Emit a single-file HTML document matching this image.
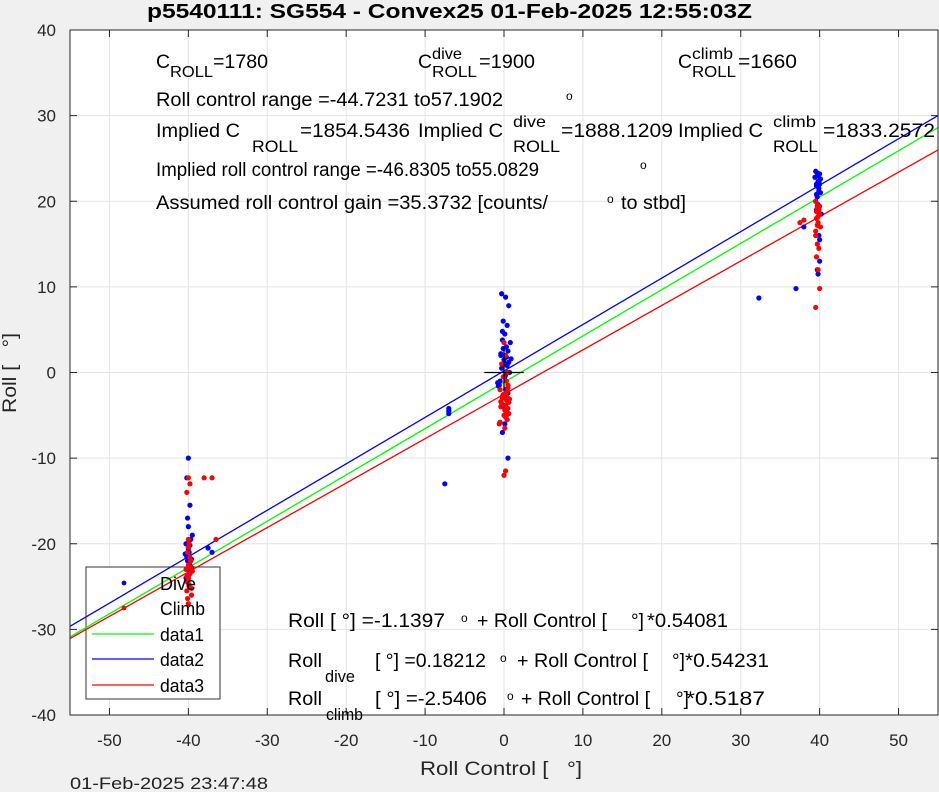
<!DOCTYPE html>
<html><head><meta charset="utf-8">
<style>
html,body{margin:0;padding:0;background:#f0f0f0;}
svg{display:block;font-family:"Liberation Sans",sans-serif;}
text{white-space:pre;}
</style></head>
<body>
<svg id="chart" width="939" height="792" viewBox="0 0 939 792" xmlns="http://www.w3.org/2000/svg">
<rect x="0" y="0" width="939" height="792" fill="#f0f0f0"/>
<rect x="70" y="30" width="868" height="685" fill="#ffffff"/>
<g id="grid"></g>
<rect x="86" y="567" width="134" height="132" fill="#ffffff" stroke="#333" stroke-width="1"/>
<g id="marks"></g>
<g id="axes"></g>
<text x="147" y="18" font-size="20" font-weight="bold" fill="#000" textLength="605" lengthAdjust="spacingAndGlyphs">p5540111: SG554 - Convex25 01-Feb-2025 12:55:03Z</text>
<g font-size="19" fill="#000">
<text x="156" y="68" textLength="14" lengthAdjust="spacingAndGlyphs">C</text>
<text x="170" y="77" font-size="16" textLength="43" lengthAdjust="spacingAndGlyphs">ROLL</text>
<text x="213" y="68" textLength="55" lengthAdjust="spacingAndGlyphs">=1780</text>
<text x="418" y="68" textLength="14" lengthAdjust="spacingAndGlyphs">C</text>
<text x="432" y="59" font-size="16" textLength="30" lengthAdjust="spacingAndGlyphs">dive</text>
<text x="432" y="77" font-size="16" textLength="45" lengthAdjust="spacingAndGlyphs">ROLL</text>
<text x="479" y="68" textLength="56" lengthAdjust="spacingAndGlyphs">=1900</text>
<text x="678" y="68" textLength="14" lengthAdjust="spacingAndGlyphs">C</text>
<text x="692" y="59" font-size="16" textLength="41" lengthAdjust="spacingAndGlyphs">climb</text>
<text x="692" y="77" font-size="16" textLength="44" lengthAdjust="spacingAndGlyphs">ROLL</text>
<text x="738" y="68" textLength="59" lengthAdjust="spacingAndGlyphs">=1660</text>
<text x="156" y="106" textLength="347" lengthAdjust="spacingAndGlyphs">Roll control range =-44.7231 to57.1902</text>
<text x="566" y="100" font-size="12">o</text>
<text x="156" y="137" textLength="84" lengthAdjust="spacingAndGlyphs">Implied C</text>
<text x="252" y="152" font-size="17" textLength="46" lengthAdjust="spacingAndGlyphs">ROLL</text>
<text x="300" y="137" textLength="110" lengthAdjust="spacingAndGlyphs">=1854.5436</text>
<text x="418" y="137" textLength="85" lengthAdjust="spacingAndGlyphs">Implied C</text>
<text x="513" y="127" font-size="16" textLength="33" lengthAdjust="spacingAndGlyphs">dive</text>
<text x="513" y="152" font-size="17" textLength="47" lengthAdjust="spacingAndGlyphs">ROLL</text>
<text x="561" y="137" textLength="112" lengthAdjust="spacingAndGlyphs">=1888.1209</text>
<text x="678" y="137" textLength="85" lengthAdjust="spacingAndGlyphs">Implied C</text>
<text x="773" y="127" font-size="16" textLength="43" lengthAdjust="spacingAndGlyphs">climb</text>
<text x="773" y="152" font-size="17" textLength="45" lengthAdjust="spacingAndGlyphs">ROLL</text>
<text x="823" y="137" textLength="112" lengthAdjust="spacingAndGlyphs">=1833.2572</text>
<text x="156" y="176" textLength="383" lengthAdjust="spacingAndGlyphs">Implied roll control range =-46.8305 to55.0829</text>
<text x="640" y="169" font-size="12">o</text>
<text x="156" y="209" textLength="392" lengthAdjust="spacingAndGlyphs">Assumed roll control gain =35.3732 [counts/</text>
<text x="607" y="203" font-size="12">o</text>
<text x="621" y="209" textLength="65" lengthAdjust="spacingAndGlyphs">to stbd]</text>

<text x="288" y="627" textLength="157" lengthAdjust="spacingAndGlyphs">Roll [ °] =-1.1397</text>
<text x="461" y="622" font-size="12">o</text>
<text x="477" y="627" textLength="130" lengthAdjust="spacingAndGlyphs">+ Roll Control [</text>
<text x="631" y="627">°]</text>
<text x="647" y="627" textLength="81" lengthAdjust="spacingAndGlyphs">*0.54081</text>

<text x="288" y="667" textLength="34" lengthAdjust="spacingAndGlyphs">Roll</text>
<text x="325" y="682" font-size="17" textLength="30" lengthAdjust="spacingAndGlyphs">dive</text>
<text x="375" y="667" textLength="111" lengthAdjust="spacingAndGlyphs">[ °] =0.18212</text>
<text x="500" y="662" font-size="12">o</text>
<text x="517" y="667" textLength="131" lengthAdjust="spacingAndGlyphs">+ Roll Control [</text>
<text x="672" y="667">°]</text>
<text x="685" y="667" textLength="84" lengthAdjust="spacingAndGlyphs">*0.54231</text>

<text x="288" y="705" textLength="34" lengthAdjust="spacingAndGlyphs">Roll</text>
<text x="326" y="720" font-size="17" textLength="37" lengthAdjust="spacingAndGlyphs">climb</text>
<text x="375" y="705" textLength="112" lengthAdjust="spacingAndGlyphs">[ °] =-2.5406</text>
<text x="507" y="700" font-size="12">o</text>
<text x="521" y="705" textLength="129" lengthAdjust="spacingAndGlyphs">+ Roll Control [</text>
<text x="676" y="705">°]</text>
<text x="686" y="705" textLength="79" lengthAdjust="spacingAndGlyphs">*0.5187</text>
</g>
<g id="legend">
<circle cx="124" cy="583" r="2.4" fill="#0000ff"/>
<text x="160" y="590" font-size="18" textLength="36" lengthAdjust="spacingAndGlyphs">Dive</text>
<circle cx="124" cy="608" r="2.4" fill="#ff0000"/>
<text x="160" y="615" font-size="18" textLength="45" lengthAdjust="spacingAndGlyphs">Climb</text>
<line x1="92" y1="634" x2="154" y2="634" stroke="#00ff00" stroke-width="1.3"/>
<text x="160" y="641" font-size="18" textLength="44" lengthAdjust="spacingAndGlyphs">data1</text>
<line x1="92" y1="659" x2="154" y2="659" stroke="#0000ff" stroke-width="1.3"/>
<text x="160" y="666" font-size="18" textLength="44" lengthAdjust="spacingAndGlyphs">data2</text>
<line x1="92" y1="685" x2="154" y2="685" stroke="#ff0000" stroke-width="1.3"/>
<text x="160" y="692" font-size="18" textLength="44" lengthAdjust="spacingAndGlyphs">data3</text>
</g>
<text x="70" y="789" font-size="17" fill="#222" textLength="198" lengthAdjust="spacingAndGlyphs">01-Feb-2025 23:47:48</text>
</svg>
<script>
const xTicks = [-50,-40,-30,-20,-10,0,10,20,30,40,50];
const yTicks = [-40,-30,-20,-10,0,10,20,30,40];
const fitIntercepts = [-1.1397, 0.18212, -2.5406];
const fitSlopes = [0.54081, 0.54231, 0.5187];
const fitColors = ['#00ff00','#0000ff','#ff0000'];
const fitNames = ['fit-line-data1','fit-line-data2','fit-line-data3'];
const diveX = [-40,-40.2,-39.8,-40.1,-40,-39.7,-40.3,-40,-39.9,-40.2,-40.1,-39.8,-40,-40.3,-39.6,-40,-37.5,-37,-39.5,-39.8,-40.4,-39.6,-39.9,
 -0.3,0.2,0.6,-0.1,0.4,0.1,-0.2,0.3,0.5,-0.4,0,0.2,-0.3,0.7,0.1,-0.5,-0.6,0.2,0.4,0,-0.8,0.3,0.1,-0.2,0.5,0.3,0.8,0.6,-0.1,0.4,-0.4,0.9,0.2,-0.7,0.5,-0.2,
 -7,-7,-7,-7.5,
 39.5,39.8,40,39.6,39.9,40.1,39.7,39.5,40,39.8,39.6,40.2,38,39.9,40,39.7,39.8,40,39.6,37,32.3,39.4,39.7,40.1,39.9,39.6,40,39.8];
const diveY = [-10,-12.3,-15.5,-17,-18,-19.5,-20,-20.5,-21,-21.5,-22,-22.5,-23,-24,-21.8,-20.8,-20.5,-21,-19,-20.2,-21.2,-22.8,-23.6,
 9.2,8.8,7.8,6,5.5,4.5,3.8,3,2.5,2,1.5,1,0.5,0,-0.5,-1,-1.5,-2,-3,-4,-1.2,-5,-6,-7,-10,1.8,3.5,1.2,2.8,0.8,2.2,1.6,-0.3,-1.6,-2.4,4.8,
 -4.2,-4.5,-4.8,-13,
 23.5,23,22.5,22,21.5,21,20.5,20,23.2,22.3,19,18.5,17,16,15.5,12,11.5,13,21.8,9.8,8.7,22.8,23.3,22.6,21.2,20.8,22,19.6];
const climbX = [-40,-39.8,-40.2,-40,-39.9,-40.1,-39.7,-40,-40.3,-39.8,-40,-40.1,-39.9,-40.2,-39.6,-40,-38,-37,-36.5,-39.5,-40,-39.7,-40.2,-39.9,-39.6,-40.1,-39.8,-40,
 0,0.2,-0.3,0.4,-0.1,0.3,0.5,-0.5,0.1,-0.2,0.6,0.2,-0.4,0.3,0,0.4,-0.6,0.1,0.3,-0.2,0.5,0,0.2,0.4,0.3,-0.4,0.6,-0.1,0.2,0.5,-0.3,0.1,0.4,-0.5,0.7,
 39.5,39.7,39.9,40,39.6,39.8,40.1,39.5,39.7,39.9,38,39.6,39.8,40,37.5,39.5,39.7,39.6,39.8,40,39.7,39.5,39.9];
const climbY = [-12.3,-13,-14,-19.5,-20,-21,-22,-22.5,-23,-23.5,-24,-24.5,-25,-25.5,-26,-27,-12.3,-12.3,-19.5,-23.2,-24.3,-22.8,-23.8,-24.8,-25.2,-26.4,-21.6,-20.4,
 3.5,2,1,0,-0.5,-1,-1.5,-2,-2.5,-3,-3.5,-3.8,-4,-4.5,-5,-5.5,-6,-6.5,-3.2,-2.8,-4.2,-12,-11.5,-2.2,-3,-3.4,-4.8,-2.6,-5.2,-1.8,-3.6,-4.4,-2.9,-5.8,-3.1,
 20,19.5,19,18.5,18,17.5,17,16,15,14.5,17.8,13.5,12,9.8,17.5,7.6,19.2,18.8,18.2,19.4,17.2,16.5,18.6];

const X0=70,X1=938,Y0=30,Y1=715,xmin=-55,xmax=55,ymin=-40,ymax=40;
const sx=v=>X0+(v-xmin)/(xmax-xmin)*(X1-X0);
const sy=v=>Y1-(v-ymin)/(ymax-ymin)*(Y1-Y0);
const NS='http://www.w3.org/2000/svg';
function mk(tag,attrs,parent){const e=document.createElementNS(NS,tag);for(const k in attrs)e.setAttribute(k,attrs[k]);parent.appendChild(e);return e;}
const grid=document.getElementById('grid'),marks=document.getElementById('marks'),axes=document.getElementById('axes');
xTicks.forEach(t=>{
  const g=mk('line',{x1:sx(t),y1:Y0,x2:sx(t),y2:Y1,stroke:'#e3e3e3','stroke-width':1},grid);
  
  
});
yTicks.forEach(t=>{
  const g=mk('line',{x1:X0,y1:sy(t),x2:X1,y2:sy(t),stroke:'#e3e3e3','stroke-width':1},grid);
  
  
});
fitIntercepts.forEach((b,i)=>{
  const m=fitSlopes[i];
  const l=mk('line',{x1:sx(xmin),y1:sy(b+m*xmin),x2:sx(xmax),y2:sy(b+m*xmax),stroke:fitColors[i],'stroke-width':1.3},marks);
  
  
});
diveX.forEach((x,i)=>{
  const c=mk('circle',{cx:sx(x),cy:sy(diveY[i]),r:2.6,fill:'#0000ff'},marks);
  
  
});
climbX.forEach((x,i)=>{
  const c=mk('circle',{cx:sx(x),cy:sy(climbY[i]),r:2.6,fill:'#ff0000'},marks);
  
  
});
const cr=mk('path',{d:`M${sx(-2.5)} ${sy(0)}H${sx(2.5)}M${sx(0)} ${sy(-2)}V${sy(3)}`,stroke:'#000','stroke-width':1.3,fill:'none'},marks);


const box=mk('rect',{x:X0,y:Y0,width:X1-X0,height:Y1-Y0,fill:'none',stroke:'#262626','stroke-width':1},axes);


xTicks.forEach(t=>{
  const a=mk('path',{d:`M${sx(t)} ${Y1}v-7M${sx(t)} ${Y0}v7`,stroke:'#262626','stroke-width':1},axes);
  
  
  const tx=mk('text',{x:sx(t),y:746,'text-anchor':'middle','font-size':17,fill:'#262626'},axes);
  tx.textContent=String(t);
  
  
});
yTicks.forEach(t=>{
  const a=mk('path',{d:`M${X0} ${sy(t)}h7M${X1} ${sy(t)}h-7`,stroke:'#262626','stroke-width':1},axes);
  
  
  const tx=mk('text',{x:56,y:sy(t)+6,'text-anchor':'end','font-size':17,fill:'#262626'},axes);
  tx.textContent=String(t);
  
  
});
const xl=mk('text',{x:420,y:775,'font-size':19,fill:'#262626',textLength:162,lengthAdjust:'spacingAndGlyphs'},axes);
xl.textContent='Roll Control [   °]';


const yl=mk('text',{x:16,y:413,'font-size':19,fill:'#262626',textLength:80,lengthAdjust:'spacingAndGlyphs',transform:'rotate(-90 16 413)'},axes);
yl.textContent='Roll [   °]';


</script>
</body></html>
